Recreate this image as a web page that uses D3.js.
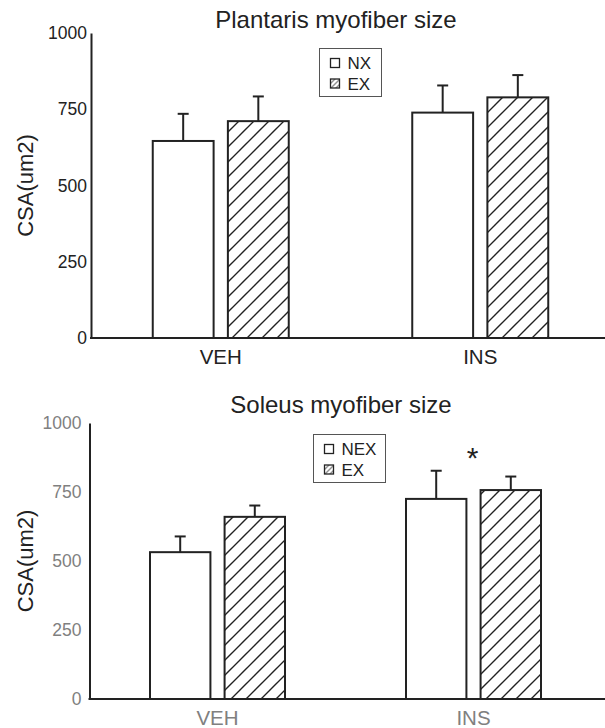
<!DOCTYPE html>
<html>
<head>
<meta charset="utf-8">
<script src="https://cdn.jsdelivr.net/npm/d3@7"></script>
<style>
  body { margin: 0; background: #fff; }
  svg { display: block; font-family: "Liberation Sans", Arial, sans-serif; }
</style>
</head>
<body>
<svg id="chart" width="605" height="728"></svg>
<script>
// ---- Data ----
const categories = ["VEH", "INS"];
const yTicks = [0, 250, 500, 750, 1000];

const plantarisTitle = "Plantaris myofiber size";
const plantarisSeries = ["NX", "EX"];
const plantarisNX = [646, 739];
const plantarisNXErr = [89, 89];
const plantarisEX = [711, 789];
const plantarisEXErr = [81, 73];

const soleusTitle = "Soleus myofiber size";
const soleusSeries = ["NEX", "EX"];
const soleusNEX = [532, 725];
const soleusNEXErr = [57, 102];
const soleusEX = [660, 757];
const soleusEXErr = [41, 49];

const svg = d3.select("#chart");
const ink = "#222";
const FONT = "Liberation Sans, Arial, sans-serif";

// hatch pattern
const defs = svg.append("defs");
const pat = defs.append("pattern")
  .attr("id", "hatch").attr("patternUnits", "userSpaceOnUse")
  .attr("width", 15).attr("height", 15);
pat.append("path").attr("d", "M-2,17 L17,-2 M-2,2 L2,-2 M13,17 L17,13")
  .attr("stroke", ink).attr("stroke-width", 1.4);
const patS = defs.append("pattern")
  .attr("id", "hatchSmall").attr("patternUnits", "userSpaceOnUse")
  .attr("width", 5).attr("height", 5);
patS.append("path").attr("d", "M-1,6 L6,-1").attr("stroke", ink).attr("stroke-width", 1);

function panel(cfg) {
  const g = svg.append("g");
  const y = d3.scaleLinear().domain([0, 1000]).range([cfg.y0, cfg.y1]);
  const x = d3.scaleBand().domain(categories).range([cfg.x0, cfg.x1]);
  const x1 = d3.scaleBand().domain(cfg.series).range([cfg.inner0, cfg.inner1]).paddingInner(cfg.innerPad);

  const rows = [];
  categories.forEach((c, i) => {
    rows.push({cat: c, s: cfg.series[0], v: cfg.a[i], e: cfg.aErr[i], hatch: false});
    rows.push({cat: c, s: cfg.series[1], v: cfg.b[i], e: cfg.bErr[i], hatch: true});
  });

  // bars
  g.selectAll("rect.bar").data(rows).join("rect")
    .attr("class", "bar")
    .attr("x", d => x(d.cat) + x1(d.s))
    .attr("width", x1.bandwidth())
    .attr("y", d => y(d.v))
    .attr("height", d => y(0) - y(d.v))
    .attr("fill", d => d.hatch ? "url(#hatch)" : "#fff")
    .attr("stroke", ink).attr("stroke-width", 2);

  // error bars
  const cx = d => x(d.cat) + x1(d.s) + x1.bandwidth() / 2;
  g.selectAll("line.err").data(rows).join("line")
    .attr("x1", cx).attr("x2", cx)
    .attr("y1", d => y(d.v)).attr("y2", d => y(d.v + d.e))
    .attr("stroke", ink).attr("stroke-width", 2);
  g.selectAll("line.cap").data(rows).join("line")
    .attr("x1", d => cx(d) - 5.5).attr("x2", d => cx(d) + 5.5)
    .attr("y1", d => y(d.v + d.e)).attr("y2", d => y(d.v + d.e))
    .attr("stroke", ink).attr("stroke-width", 2);

  // y axis
  const ya = g.append("g").attr("transform", `translate(${cfg.x0},0)`)
    .call(d3.axisLeft(y).tickValues(yTicks).tickSize(0).tickPadding(cfg.tickPad).tickFormat(d3.format("d")));
  ya.attr("font-family", FONT);
  ya.select(".domain").attr("stroke", ink).attr("stroke-width", 2);
  ya.selectAll("text").attr("font-size", 17.5).attr("fill", cfg.tickColor);

  // x axis baseline
  g.append("line").attr("x1", cfg.x0 - 1).attr("x2", 605)
    .attr("y1", y(0)).attr("y2", y(0))
    .attr("stroke", ink).attr("stroke-width", 2);

  // category labels
  g.selectAll("text.cat").data(categories).join("text")
    .attr("x", (d, i) => x(d) + x.bandwidth() / 2 + cfg.catShift[i])
    .attr("y", cfg.catY)
    .attr("text-anchor", "middle")
    .attr("font-size", 20.5)
    .attr("fill", cfg.catColor)
    .text(d => d);

  // title
  g.append("text").attr("x", cfg.titleX).attr("y", cfg.titleY)
    .attr("text-anchor", "middle").attr("font-size", 24).attr("fill", ink)
    .text(cfg.title);

  // y label
  g.append("text")
    .attr("transform", `translate(${cfg.ylabX},${(cfg.y0 + cfg.y1) / 2}) rotate(-90)`)
    .attr("text-anchor", "middle").attr("font-size", 22).attr("fill", ink)
    .text("CSA(um2)");

  // legend
  const lg = g.append("g").attr("transform", `translate(${cfg.legX},${cfg.legY})`);
  lg.append("rect").attr("width", cfg.legW).attr("height", 48)
    .attr("fill", "#fff").attr("stroke", "#555").attr("stroke-width", 1);
  cfg.series.forEach((s, i) => {
    const row = lg.append("g").attr("transform", `translate(11,${14.5 + i * 20.5})`);
    row.append("rect").attr("x", 0).attr("y", -4.5).attr("width", 9).attr("height", 9)
      .attr("fill", i === 1 ? "url(#hatchSmall)" : "#fff")
      .attr("stroke", ink).attr("stroke-width", 1.3);
    row.append("text").attr("x", 17).attr("y", 6.2).attr("font-size", 17).attr("fill", ink).text(s);
  });
  return {x, x1, y, g};
}

panel({
  title: plantarisTitle, series: plantarisSeries,
  a: plantarisNX, aErr: plantarisNXErr, b: plantarisEX, bErr: plantarisEXErr,
  y0: 338, y1: 33, x0: 91, x1: 610, inner0: 61.75, inner1: 197.75, innerPad: 0.19,
  tickPad: 4, tickColor: ink, catColor: ink, catY: 364, catShift: [0, 0],
  titleX: 336, titleY: 28, ylabX: 33,
  legX: 319.5, legY: 48.5, legW: 62
});

const sol = panel({
  title: soleusTitle, series: soleusSeries,
  a: soleusNEX, aErr: soleusNEXErr, b: soleusEX, bErr: soleusEXErr,
  y0: 699, y1: 423, x0: 89.5, x1: 601.5, inner0: 60.5, inner1: 195.5, innerPad: 0.19,
  tickPad: 8, tickColor: "#808080", catColor: "#808080", catY: 725, catShift: [0, 0],
  titleX: 341, titleY: 413, ylabX: 33,
  legX: 313.5, legY: 434.5, legW: 72
});

// significance marker
sol.g.append("text")
  .attr("x", sol.x("INS") + sol.x1("EX") - 8)
  .attr("y", 468)
  .attr("text-anchor", "middle").attr("font-size", 30).attr("fill", ink)
  .text("*");
</script>
</body>
</html>
